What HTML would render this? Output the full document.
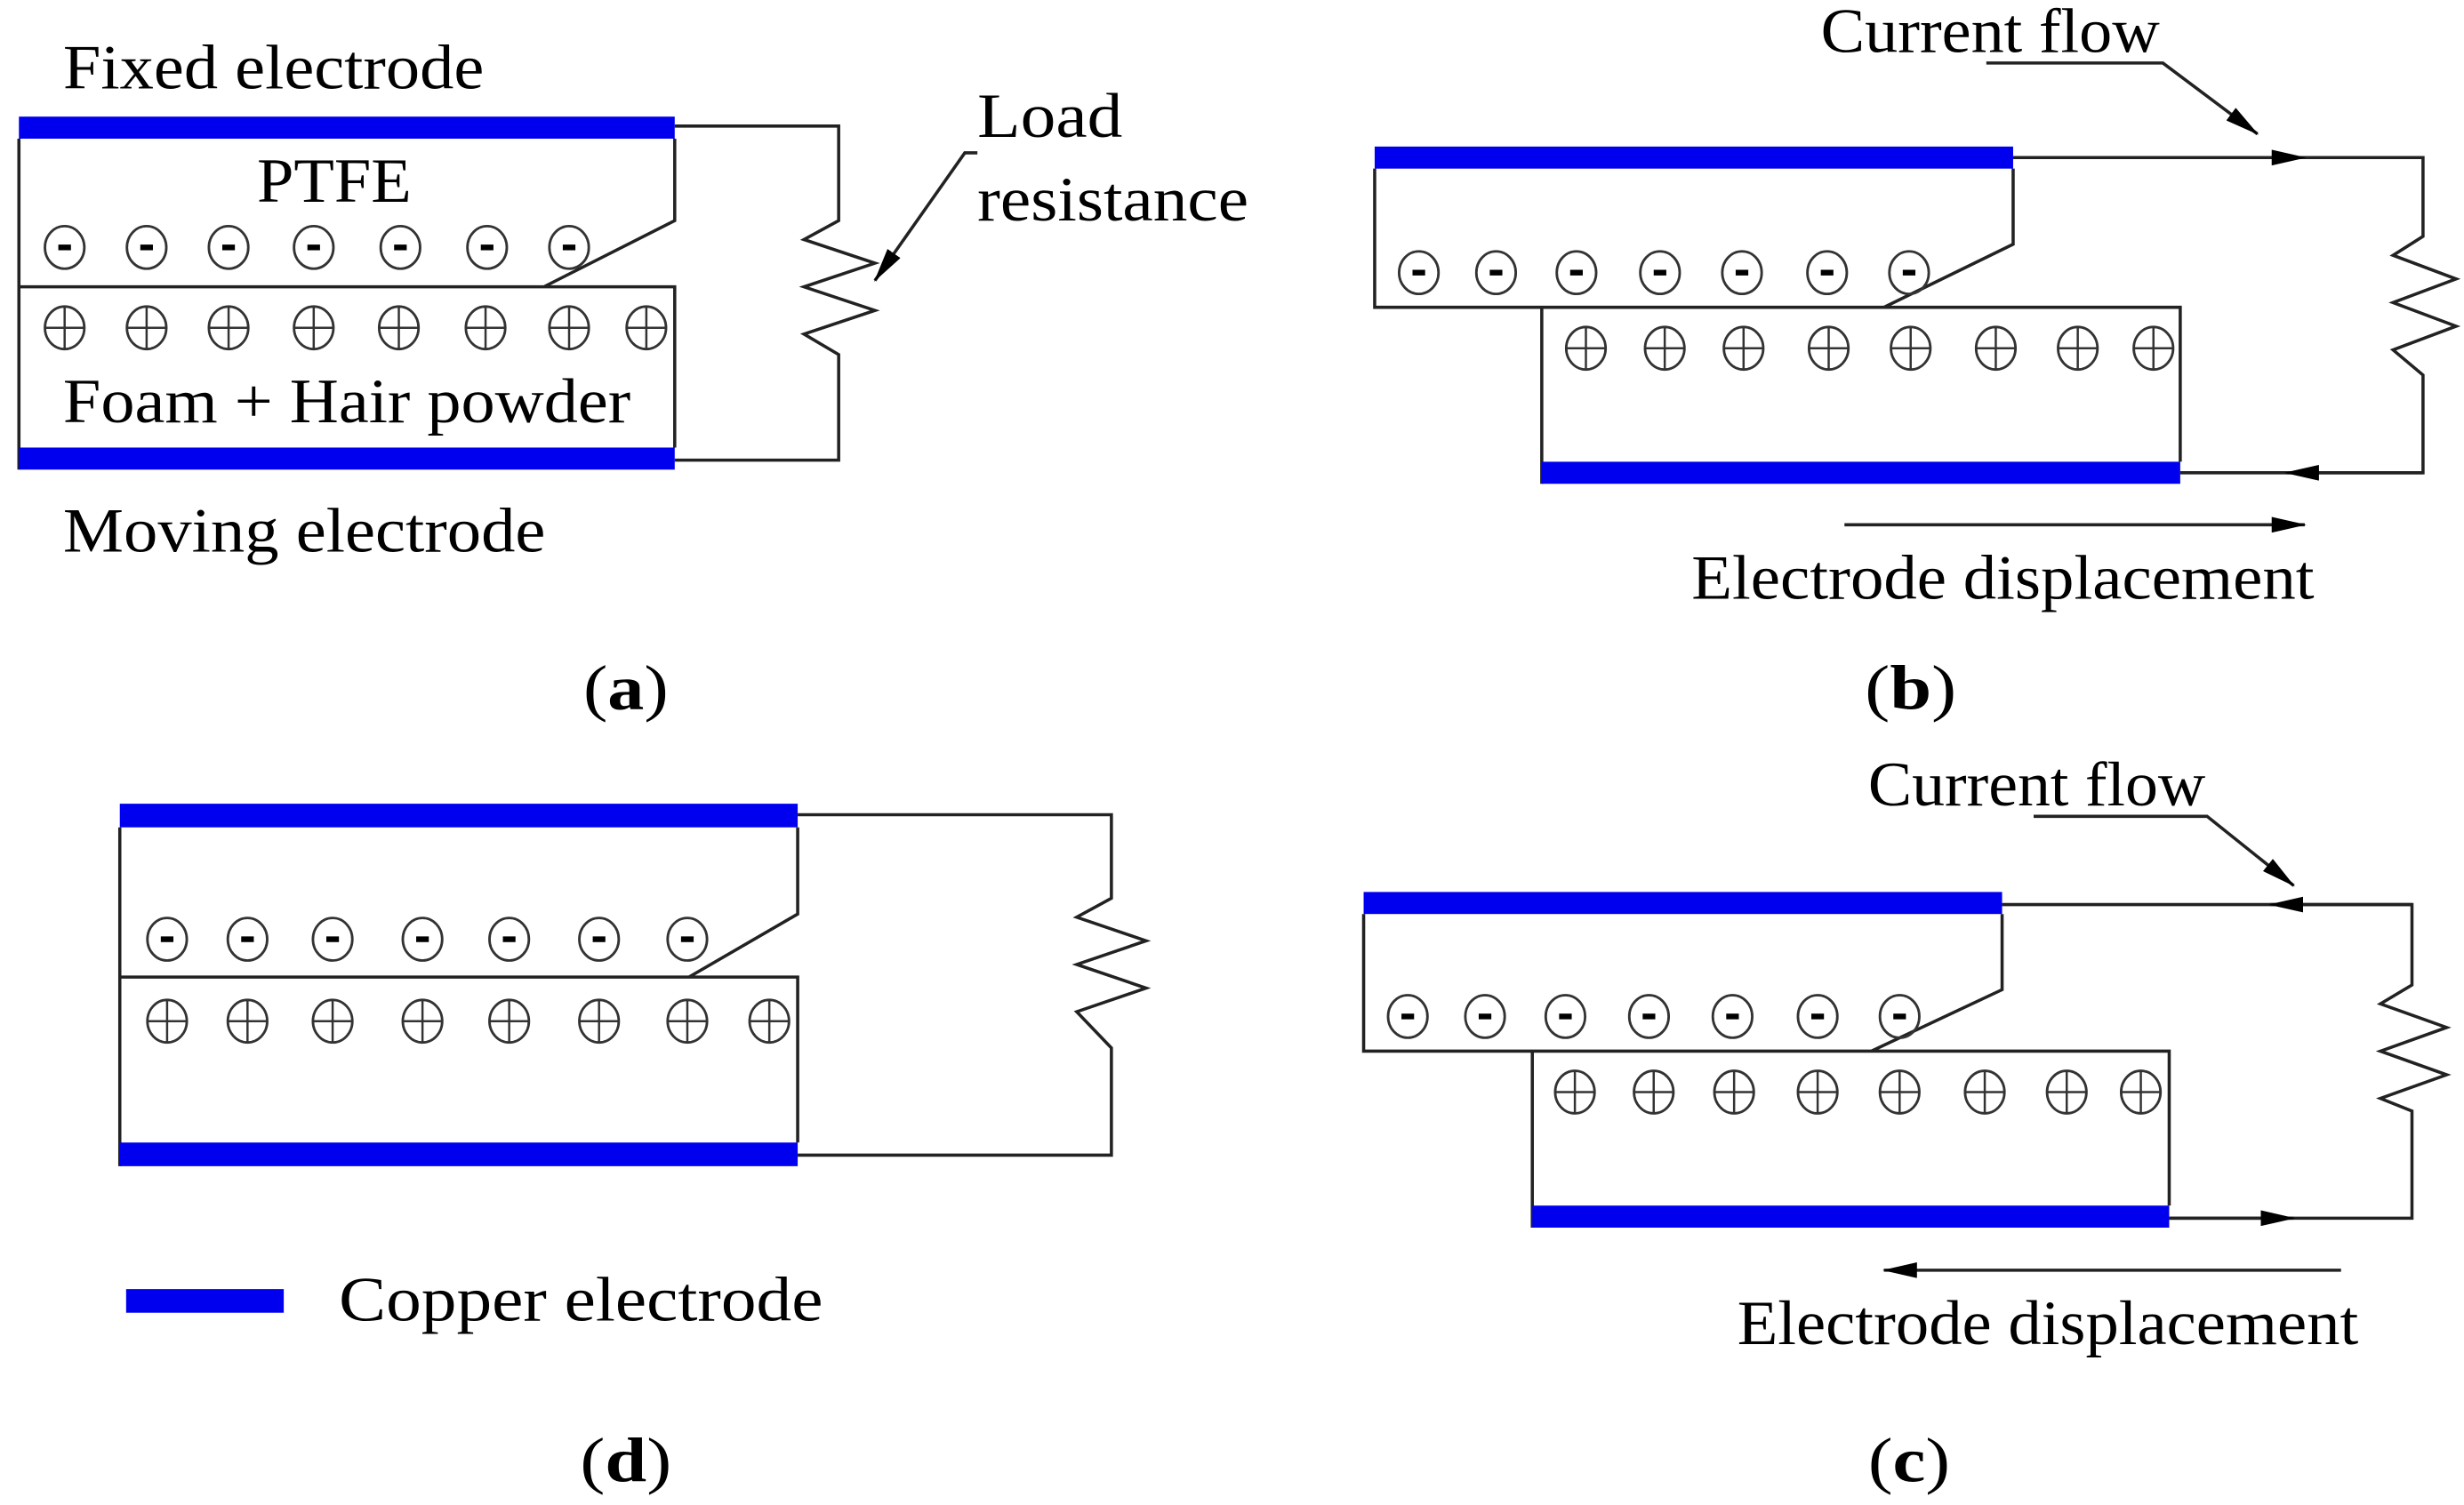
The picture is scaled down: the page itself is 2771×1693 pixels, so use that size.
<!DOCTYPE html>
<html><head><meta charset="utf-8"><style>
html,body{margin:0;padding:0;background:#fff;}
svg{display:block;}
text{font-family:"Liberation Serif",serif;fill:#000;}
</style></head><body>
<svg width="2771" height="1693" viewBox="0 0 1563 955" preserveAspectRatio="none" xmlns="http://www.w3.org/2000/svg">
<defs>
<g id="m"><ellipse cx="0" cy="0" rx="12.5" ry="13.5" fill="none" stroke="#333" stroke-width="1.6"/><rect x="-4" y="-1.8" width="8" height="3.6" fill="#000"/></g>
<g id="p"><ellipse cx="0" cy="0" rx="12.5" ry="13.5" fill="none" stroke="#333" stroke-width="1.6"/><path d="M-12.5 0H12.5M0 -13.5V13.5" stroke="#333" stroke-width="1.4"/></g>
<marker id="ar" markerWidth="22" markerHeight="10" refX="21" refY="5" orient="auto" markerUnits="userSpaceOnUse"><path d="M0 0L22 5L0 10z" fill="#000"/></marker>
</defs>
<g fill="none" stroke="#222" stroke-width="2">
<!-- (a) -->
<path d="M12 88V298M12 182H345L428 140V88M12 182H428V284"/>
<path d="M428 80H532V140L510 152L555 167L510 182L555 197L510 212L532 225V292H428"/>
<path d="M620 97H612L555 178" marker-end="url(#ar)"/>
<!-- (b) -->
<path d="M872 107V195H1195L1277 155V107M978 195H1383V293M978 195V307"/>
<path d="M1277 100H1537V150L1518 162L1558 177L1518 192L1558 207L1518 222L1537 238V300H1383"/>
<path d="M1260 40H1372L1432 85" marker-end="url(#ar)"/>
<path d="M1170 333H1462" marker-end="url(#ar)"/>
<path d="M1400 100H1462" marker-end="url(#ar)"/>
<path d="M1537 300H1450" marker-end="url(#ar)"/>
<!-- (d) -->
<path d="M76 525V740M76 620H437L506 580V525M76 620H506V725"/>
<path d="M506 517H705V570L683 582L727 597L683 612L727 627L683 642L705 665V733H506"/>
<!-- (c) -->
<path d="M865 580V667H1187L1270 628V580M972 667H1376V765M972 667V779"/>
<path d="M1270 574H1530V625L1510 637L1552 652L1510 667L1552 682L1510 697L1530 705V773H1376"/>
<path d="M1290 518H1400L1455 562" marker-end="url(#ar)"/>
<path d="M1530 574H1440" marker-end="url(#ar)"/>
<path d="M1376 773H1455" marker-end="url(#ar)"/>
<path d="M1485 806H1195" marker-end="url(#ar)"/>
</g>
<g fill="#0000ee">
<rect x="12" y="74" width="416" height="14"/><rect x="12" y="284" width="416" height="14"/>
<rect x="872" y="93" width="405" height="14"/><rect x="978" y="293" width="405" height="14"/>
<rect x="76" y="510" width="430" height="15"/><rect x="76" y="725" width="430" height="15"/>
<rect x="865" y="566" width="405" height="14"/><rect x="972" y="765" width="404" height="14"/>
<rect x="80" y="818" width="100" height="15"/>
</g>
<g>
<use href="#m" x="41" y="157"/><use href="#m" x="93" y="157"/><use href="#m" x="145" y="157"/><use href="#m" x="199" y="157"/><use href="#m" x="254" y="157"/><use href="#m" x="309" y="157"/><use href="#m" x="361" y="157"/>
<use href="#p" x="41" y="208"/><use href="#p" x="93" y="208"/><use href="#p" x="145" y="208"/><use href="#p" x="199" y="208"/><use href="#p" x="253" y="208"/><use href="#p" x="308" y="208"/><use href="#p" x="361" y="208"/><use href="#p" x="410" y="208"/>
<use href="#m" x="900" y="173"/><use href="#m" x="949" y="173"/><use href="#m" x="1000" y="173"/><use href="#m" x="1053" y="173"/><use href="#m" x="1105" y="173"/><use href="#m" x="1159" y="173"/><use href="#m" x="1211" y="173"/>
<use href="#p" x="1006" y="221"/><use href="#p" x="1056" y="221"/><use href="#p" x="1106" y="221"/><use href="#p" x="1160" y="221"/><use href="#p" x="1212" y="221"/><use href="#p" x="1266" y="221"/><use href="#p" x="1318" y="221"/><use href="#p" x="1366" y="221"/>
<use href="#m" x="106" y="596"/><use href="#m" x="157" y="596"/><use href="#m" x="211" y="596"/><use href="#m" x="268" y="596"/><use href="#m" x="323" y="596"/><use href="#m" x="380" y="596"/><use href="#m" x="436" y="596"/>
<use href="#p" x="106" y="648"/><use href="#p" x="157" y="648"/><use href="#p" x="211" y="648"/><use href="#p" x="268" y="648"/><use href="#p" x="323" y="648"/><use href="#p" x="380" y="648"/><use href="#p" x="436" y="648"/><use href="#p" x="488" y="648"/>
<use href="#m" x="893" y="645"/><use href="#m" x="942" y="645"/><use href="#m" x="993" y="645"/><use href="#m" x="1046" y="645"/><use href="#m" x="1099" y="645"/><use href="#m" x="1153" y="645"/><use href="#m" x="1205" y="645"/>
<use href="#p" x="999" y="693"/><use href="#p" x="1049" y="693"/><use href="#p" x="1100" y="693"/><use href="#p" x="1153" y="693"/><use href="#p" x="1205" y="693"/><use href="#p" x="1259" y="693"/><use href="#p" x="1311" y="693"/><use href="#p" x="1358" y="693"/>
</g>
<g font-size="40">
<text x="40" y="56" textLength="267" lengthAdjust="spacingAndGlyphs">Fixed electrode</text>
<text x="163" y="128" textLength="98" lengthAdjust="spacingAndGlyphs">PTFE</text>
<text x="40" y="268" textLength="360" lengthAdjust="spacingAndGlyphs">Foam + Hair powder</text>
<text x="40" y="350" textLength="306" lengthAdjust="spacingAndGlyphs">Moving electrode</text>
<text x="620" y="87" textLength="92" lengthAdjust="spacingAndGlyphs">Load</text>
<text x="620" y="140" textLength="172" lengthAdjust="spacingAndGlyphs">resistance</text>
<text x="370" y="450" textLength="54" lengthAdjust="spacingAndGlyphs">(<tspan font-weight="bold">a</tspan>)</text>
<text x="1155" y="33" textLength="215" lengthAdjust="spacingAndGlyphs">Current flow</text>
<text x="1073" y="380" textLength="395" lengthAdjust="spacingAndGlyphs">Electrode displacement</text>
<text x="1183" y="450" textLength="58" lengthAdjust="spacingAndGlyphs">(<tspan font-weight="bold">b</tspan>)</text>
<text x="215" y="838" textLength="307" lengthAdjust="spacingAndGlyphs">Copper electrode</text>
<text x="368" y="940" textLength="58" lengthAdjust="spacingAndGlyphs">(<tspan font-weight="bold">d</tspan>)</text>
<text x="1185" y="511" textLength="214" lengthAdjust="spacingAndGlyphs">Current flow</text>
<text x="1102" y="853" textLength="394" lengthAdjust="spacingAndGlyphs">Electrode displacement</text>
<text x="1185" y="940" textLength="52" lengthAdjust="spacingAndGlyphs">(<tspan font-weight="bold">c</tspan>)</text>
</g>
</svg>
</body></html>
